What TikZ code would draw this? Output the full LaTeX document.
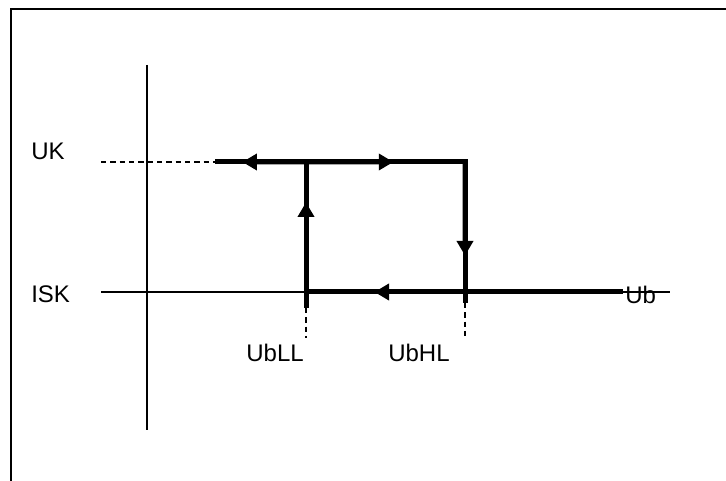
\documentclass[tikz,border=0pt]{standalone}
\usepackage{fontspec}
\setmainfont{Liberation Sans}
\usetikzlibrary{arrows.meta,positioning,calc}

\begin{document}
\begin{tikzpicture}[x=0.75pt, y=-0.75pt,
    axis/.style={line width=0.9pt},
    guide/.style={line width=0.9pt, dash pattern=on 4pt off 3pt},
    loopline/.style={line width=3.75pt, line join=miter},
    tip/.style={loopline, -{Triangle[length=11pt, width=12pt]}},
    lbl/.style={inner sep=0pt, font=\fontsize{18}{20}\selectfont}]
    \useasboundingbox (0,0) rectangle (726,481);
    \draw[line width=1.5pt] (726,9) -- (11,9) -- (11,481);

    % axes
    \coordinate (yt) at (147,65);
    \coordinate (yb) at (147,430);
    \coordinate (xl) at (101,292);
    \coordinate (xr) at (670,292);
    \draw[axis] (yt) -- (yb);
    \draw[axis] (xl) -- (xr);

    % corners of the loop
    \coordinate (lt) at (306,162);
    \coordinate (ht) at (465,162);
    \coordinate (lb) at (306,292);
    \coordinate (hb) at (465,292);
    \coordinate (ukend) at (215,162);
    \coordinate (ubend) at (623,292);
    \coordinate (ls) at (306,308);
    \coordinate (hs) at (465,303);
    \coordinate (ukl) at (101,162);
    \coordinate (lsd) at (306,338);
    \coordinate (hsd) at (465,338);

    \draw[guide] (ukl) -- (ukend);
    \draw[guide] (ls) -- (lsd);
    \draw[guide] (hs) -- (hsd);

    \draw[loopline] (ukend) -- (ht) -- (hs);
    \draw[loopline] (ls) -- (lt);
    \draw[loopline] (lb) -- (ubend);
    \draw[tip] (lt) -- ($(lt)!0.70!(ukend)$);
    \draw[tip] (lt) -- ($(lt)!0.55!(ht)$);
    \draw[tip] (ht) -- ($(ht)!0.72!(hb)$);
    \draw[tip] (hb) -- ($(hb)!0.57!(lb)$);
    \draw[tip] (lb) -- ($(lb)!0.69!(lt)$);

    % labels
    \node[lbl, anchor=west] (uk) at (31,151) {UK};
    \node[lbl, anchor=west] (isk) at (31,294) {ISK};
    \node[lbl, anchor=west] (ub) at (625,295) {Ub};
    \node[lbl, anchor=east] (ubll) at (304,353) {UbLL};
    \node[lbl, anchor=west] (ubhl) at (388,353) {UbHL};
\end{tikzpicture}
\end{document}
